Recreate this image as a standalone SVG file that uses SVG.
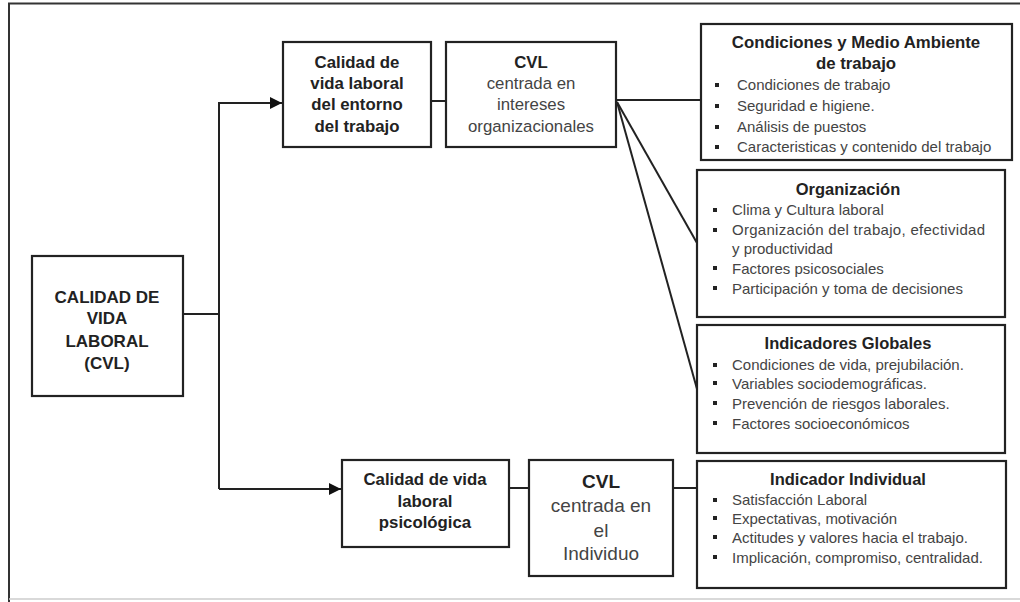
<svg xmlns="http://www.w3.org/2000/svg" width="1020" height="602" viewBox="0 0 1020 602">
<style>
.box{fill:#fff;stroke:#222;stroke-width:2.2}
.ln{fill:none;stroke:#222;stroke-width:2}
.b{font-family:"Liberation Sans",Arial,sans-serif;font-weight:bold;fill:#222;text-anchor:middle}
.r{font-family:"Liberation Sans",Arial,sans-serif;fill:#444;text-anchor:middle}
.li{font-family:"Liberation Sans",Arial,sans-serif;fill:#444;font-size:15px}
.bul{fill:#222}
</style>
<defs>
<marker id="arr" viewBox="0 0 10 10" refX="10" refY="5" markerWidth="16" markerHeight="12" markerUnits="userSpaceOnUse" orient="auto"><path d="M0,0 L10,5 L0,10 z" fill="#111"/></marker>
</defs>
<rect width="1020" height="602" fill="#fff"/>
<g id="frame">
<line x1="8" y1="3.5" x2="1020" y2="3.5" stroke="#333" stroke-width="2"/>
<line x1="9" y1="3" x2="9" y2="602" stroke="#333" stroke-width="2"/>
<line x1="9" y1="599" x2="1020" y2="599" stroke="#ccc" stroke-width="1.5"/>
</g>
<g id="connectors">
<polyline class="ln" points="183,314 219,314"/>
<polyline class="ln" points="219,489 219,103 282,103" marker-end="url(#arr)"/>
<polyline class="ln" points="219,489 341,489" marker-end="url(#arr)"/>
<line class="ln" x1="431" y1="101" x2="446" y2="101"/>
<line class="ln" x1="616" y1="100" x2="701" y2="100"/>
<line class="ln" x1="617" y1="102" x2="697" y2="243"/>
<line class="ln" x1="617" y1="102" x2="697" y2="389"/>
<line class="ln" x1="509" y1="488" x2="529" y2="488"/>
<line class="ln" x1="673" y1="488" x2="697" y2="488"/>
</g>
<g id="cvl-main">
<rect class="box" x="32" y="256" width="151" height="140"/>
<text class="b" font-size="17"><tspan x="107" y="303">CALIDAD DE</tspan><tspan x="107" y="324">VIDA</tspan><tspan x="107" y="347">LABORAL</tspan><tspan x="107" y="369">(CVL)</tspan></text>
</g>
<g id="entorno">
<rect class="box" x="283" y="42" width="148" height="105"/>
<text class="b" font-size="16.8"><tspan x="357" y="68">Calidad de</tspan><tspan x="357" y="89">vida laboral</tspan><tspan x="357" y="110">del entorno</tspan><tspan x="357" y="132">del trabajo</tspan></text>
</g>
<g id="cvl-org">
<rect class="box" x="446" y="42" width="170" height="105"/>
<text font-size="16.8"><tspan class="b" x="531" y="68">CVL</tspan><tspan class="r" x="531" y="89">centrada en</tspan><tspan class="r" x="531" y="110">intereses</tspan><tspan class="r" x="531" y="132">organizacionales</tspan></text>
</g>
<g id="condiciones">
<rect class="box" x="701" y="24" width="311" height="136"/>
<text class="b" font-size="16.8"><tspan x="856" y="48">Condiciones y Medio Ambiente</tspan><tspan x="856" y="69">de trabajo</tspan></text>
<g class="bul"><rect x="715" y="83" width="4" height="4"/><rect x="715" y="104" width="4" height="4"/><rect x="715" y="125" width="4" height="4"/><rect x="715" y="145" width="4" height="4"/></g>
<text class="li"><tspan x="737" y="90">Condiciones de trabajo</tspan><tspan x="737" y="111">Seguridad e higiene.</tspan><tspan x="737" y="132">Análisis de puestos</tspan><tspan x="737" y="152">Caracteristicas y contenido del trabajo</tspan></text>
</g>
<g id="organizacion">
<rect class="box" x="697" y="170" width="308" height="147"/>
<text class="b" font-size="16.5" x="848" y="195">Organización</text>
<g class="bul"><rect x="713" y="208" width="4" height="4"/><rect x="713" y="228" width="4" height="4"/><rect x="713" y="266" width="4" height="4"/><rect x="713" y="286" width="4" height="4"/></g>
<text class="li"><tspan x="732" y="215">Clima y Cultura laboral</tspan><tspan x="732" y="235" textLength="253" lengthAdjust="spacing">Organización del trabajo, efectividad</tspan><tspan x="732" y="254">y productividad</tspan><tspan x="732" y="274">Factores psicosociales</tspan><tspan x="732" y="294">Participación y toma de decisiones</tspan></text>
</g>
<g id="globales">
<rect class="box" x="697" y="325" width="308" height="128"/>
<text class="b" font-size="16.5" x="848" y="349">Indicadores Globales</text>
<g class="bul"><rect x="713" y="363" width="4" height="4"/><rect x="713" y="381" width="4" height="4"/><rect x="713" y="401" width="4" height="4"/><rect x="713" y="421" width="4" height="4"/></g>
<text class="li"><tspan x="732" y="370">Condiciones de vida, prejubilación.</tspan><tspan x="732" y="389">Variables sociodemográficas.</tspan><tspan x="732" y="409">Prevención de riesgos laborales.</tspan><tspan x="732" y="429">Factores socioeconómicos</tspan></text>
</g>
<g id="individual">
<rect class="box" x="697" y="461" width="309" height="127"/>
<text class="b" font-size="16.5" x="848" y="485">Indicador Individual</text>
<g class="bul"><rect x="713" y="498" width="4" height="4"/><rect x="713" y="516" width="4" height="4"/><rect x="713" y="535" width="4" height="4"/><rect x="713" y="555" width="4" height="4"/></g>
<text class="li"><tspan x="732" y="505">Satisfacción Laboral</tspan><tspan x="732" y="524">Expectativas, motivación</tspan><tspan x="732" y="543">Actitudes y valores hacia el trabajo.</tspan><tspan x="732" y="563">Implicación, compromiso, centralidad.</tspan></text>
</g>
<g id="psicologica">
<rect class="box" x="342" y="460" width="167" height="87"/>
<text class="b" font-size="16.8"><tspan x="425" y="485">Calidad de vida</tspan><tspan x="425" y="507">laboral</tspan><tspan x="425" y="528">psicológica</tspan></text>
</g>
<g id="cvl-ind">
<rect class="box" x="529" y="460" width="144" height="116"/>
<text font-size="19"><tspan class="b" x="601" y="488">CVL</tspan><tspan class="r" x="601" y="512">centrada en</tspan><tspan class="r" x="601" y="537">el</tspan><tspan class="r" x="601" y="560">Individuo</tspan></text>
</g>
</svg>
